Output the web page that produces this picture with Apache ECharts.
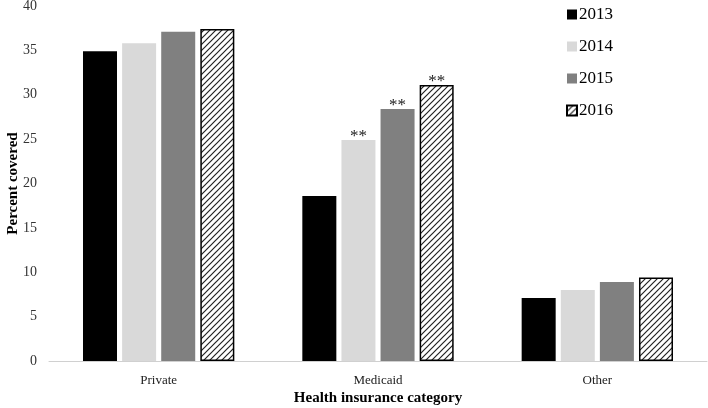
<!DOCTYPE html>
<html>
<head>
<meta charset="UTF-8">
<title>Health insurance</title>
<script src="https://cdn.jsdelivr.net/npm/echarts@6/dist/echarts.min.js"></script>
</head>
<body style="margin:0">
<div id="main" style="width:708px;height:408px"></div>
<script>
var categories = ['Private', 'Medicaid', 'Other'];
var years = ['2013', '2014', '2015', '2016'];
var v2013 = [34.9, 18.6, 7.1];
var v2014 = [35.8, 24.9, 8.0];
var v2015 = [37.1, 28.4, 8.9];
var v2016 = [37.4, 31.1, 9.4];
// which bars carry the ** mark
var starred = [
  [false, false, false],
  [false, true, false],
  [false, true, false],
  [false, true, false]
];

// hatch pattern for 2016
var hatch = document.createElement('canvas');
hatch.width = 6; hatch.height = 6;
var hc = hatch.getContext('2d');
hc.fillStyle = '#fff';
hc.fillRect(0, 0, 6, 6);
hc.strokeStyle = '#222';
hc.lineWidth = 1.2;
hc.beginPath();
hc.moveTo(0, 6); hc.lineTo(6, 0);
hc.moveTo(-3, 3); hc.lineTo(3, -3);
hc.moveTo(3, 9); hc.lineTo(9, 3);
hc.stroke();

var font = 'Liberation Serif';
var fills = ['#000000', '#d9d9d9', '#808080', { image: hatch, repeat: 'repeat' }];
var allVals = [v2013, v2014, v2015, v2016];

var series = years.map(function (y, i) {
  return {
    name: y,
    type: 'bar',
    barGap: '15%',
    barCategoryGap: '31%',
    itemStyle: i === 3 ? { color: fills[i], borderColor: '#000', borderWidth: 1.5 } : { color: fills[i] },
    label: { show: false },
    data: allVals[i].map(function (v, j) {
      var d = { value: v };
      if (starred[i][j]) {
        d.label = { show: true, position: 'top', formatter: '**', fontFamily: font, fontSize: 17, color: '#222', distance: -5 };
      }
      return d;
    })
  };
});

var myChart = echarts.init(document.getElementById('main'));
var option = {
  animation: false,
  textStyle: { fontFamily: font },
  grid: { left: 49, right: 1, top: 6, bottom: 47, containLabel: false, outerBoundsMode: 'none' },
  legend: {
    orient: 'vertical',
    left: 561,
    top: 1,
    itemWidth: 10,
    itemHeight: 10,
    itemGap: 15,
    icon: 'rect',
    textStyle: { fontFamily: font, fontSize: 17, color: '#000', padding: [0, 0, 0, -3] },
    data: years
  },
  xAxis: {
    type: 'category',
    data: categories,
    name: 'Health insurance category',
    nameLocation: 'middle',
    nameGap: 30,
    nameMoveOverlap: false,
    nameTextStyle: { fontFamily: font, fontWeight: 'bold', fontSize: 15, color: '#000' },
    axisLine: { lineStyle: { color: '#d0d0d0', width: 1 } },
    axisTick: { show: false },
    axisLabel: { fontFamily: font, fontSize: 13, color: '#222', margin: 13 }
  },
  yAxis: {
    type: 'value',
    min: 0,
    max: 40,
    interval: 5,
    name: 'Percent covered',
    nameLocation: 'middle',
    nameGap: 28,
    nameMoveOverlap: false,
    nameTextStyle: { fontFamily: font, fontWeight: 'bold', fontSize: 15, color: '#000' },
    axisLine: { show: false },
    axisTick: { show: false },
    splitLine: { show: false },
    axisLabel: { fontFamily: font, fontSize: 14, color: '#333', margin: 12 }
  },
  series: series
};
myChart.setOption(option);
</script>
</body>
</html>
